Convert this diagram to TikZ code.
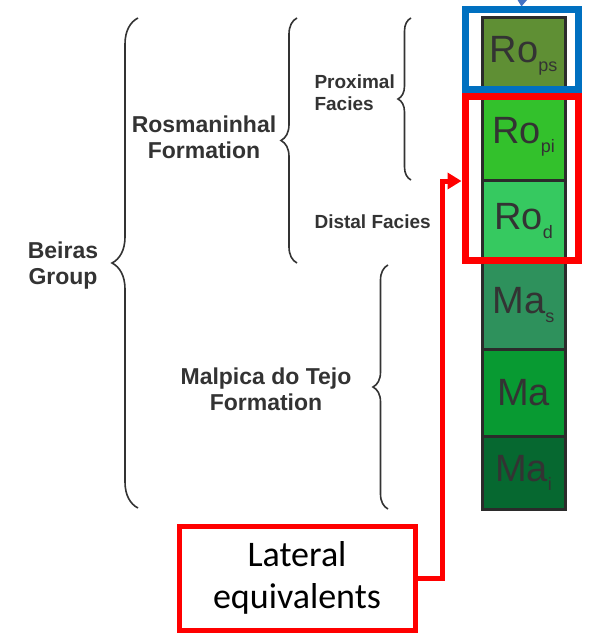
\documentclass[tikz,border=0pt]{standalone}
\usepackage{fontspec}
\setmainfont{Liberation Sans}
\newfontfamily\calibri{Carlito}
\usetikzlibrary{positioning,arrows.meta,decorations.pathreplacing}

\definecolor{labelgray}{HTML}{333333}
\definecolor{cellline}{HTML}{2B2B2B}
\definecolor{frameblue}{HTML}{0070C0}
\definecolor{arrowblue}{HTML}{4472C4}
\definecolor{framered}{HTML}{FF0000}
\definecolor{ropscol}{RGB}{95,143,52}
\definecolor{ropicol}{RGB}{51,193,44}
\definecolor{rodcol}{RGB}{54,201,96}
\definecolor{mascol}{RGB}{46,145,92}
\definecolor{macol}{RGB}{8,154,50}
\definecolor{maicol}{RGB}{6,104,48}

\newcommand{\lsub}[1]{\raisebox{-9pt}{\fontsize{18}{18}\selectfont #1}}

\begin{document}
\begin{tikzpicture}[x=1pt,y=-1pt]
      \tikzset{cell/.style={draw=cellline, line width=3pt, outer sep=0pt,
          inner sep=0pt, minimum width=83pt, text=labelgray,
          font=\fontsize{38}{38}\selectfont}}
      \tikzset{unitlabel/.style={text=labelgray, align=center,
          font=\bfseries\fontsize{23}{26}\selectfont}}
      \tikzset{facieslabel/.style={text=labelgray, align=left, anchor=west,
          font=\bfseries\fontsize{19}{22}\selectfont}}
      \tikzset{groupbrace/.style={draw=labelgray, line width=1.6pt,
          decorate, decoration={brace, amplitude=#1}}}
      \tikzset{framebox/.style={draw=#1, line width=7pt, inner sep=0pt}}

      \useasboundingbox (0,0) rectangle (590,634);

      % stratigraphic column
      \node[cell, fill=ropscol, minimum height=76pt] (rops) at (523.5,56) {Ro\lsub{ps}};
      \node[cell, fill=ropicol, minimum height=86pt, below=0pt of rops] (ropi) {Ro\lsub{pi}};
      \node[cell, fill=rodcol, minimum height=82pt, below=0pt of ropi] (rod) {Ro\lsub{d}};
      \node[cell, fill=mascol, minimum height=87pt, below=0pt of rod] (mas) {Ma\lsub{s}};
      \node[cell, fill=macol, minimum height=87pt, below=0pt of mas] (ma) {Ma};
      \node[cell, fill=maicol, minimum height=73pt, below=0pt of ma] (mai) {Ma\lsub{i}};

      % frames
      \node[framebox=frameblue, minimum width=113pt, minimum height=79pt] (bluebox) at (521.5,49.5) {};
      \node[framebox=framered, minimum width=113pt, minimum height=164pt] (redbox) at (521.5,178) {};

      % labels
      \node[unitlabel] (beiras) at (63,266) {Beiras\\Group};
      \node[unitlabel] (rosman) at (204,137) {Rosmaninhal\\Formation};
      \node[unitlabel] (malpica) at (266,389) {Malpica do Tejo\\Formation};
      \node[facieslabel] (proximal) at (311,93) {Proximal\\Facies};
      \node[facieslabel] (distal) at (311,222) {Distal Facies};

      \node[draw=framered, line width=5pt, minimum width=236pt, minimum height=104pt,
        align=center, font=\calibri\fontsize{36}{42}\selectfont] (lateral) at (297,578)
        {Lateral\\equivalents};

      % braces
      \draw[groupbrace=26pt] (138,508) -- (138,18);
      \draw[groupbrace=16pt] (297,263) -- (297,18);
      \draw[groupbrace=13pt] (411,180) -- (411,18);
      \draw[groupbrace=15pt] (388,509) -- (388,265);

      % arrows
      \coordinate (bluetop) at (522,0);
      \draw[arrowblue, line width=2pt, -{Triangle[width=11pt,length=8pt]}] (bluetop) -- (bluebox.north);
      \coordinate (bend) at (442,181);
      \draw[framered, line width=5pt, -{Triangle[width=16pt,length=14pt]}]
        (lateral.east) -| (bend) -- (redbox.west |- bend);
    \end{tikzpicture}
\end{document}
